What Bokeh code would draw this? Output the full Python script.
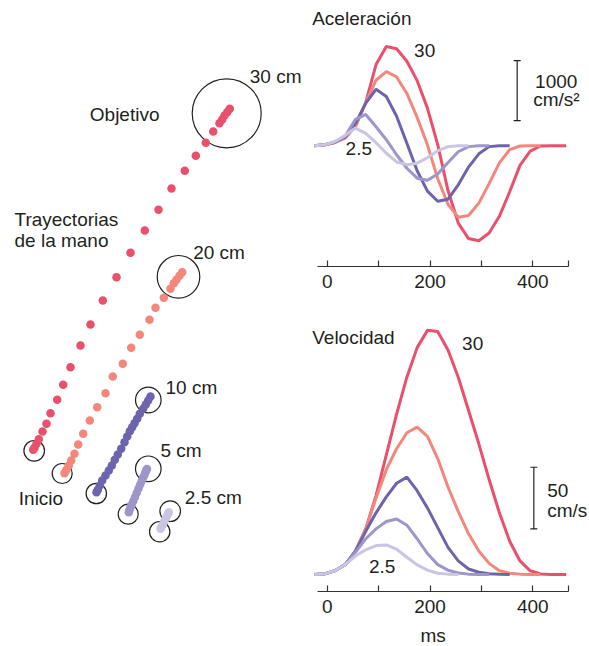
from bokeh.plotting import figure
from bokeh.layouts import row, column
from bokeh.models import Range1d, FixedTicker, Label, Whisker, ColumnDataSource, TeeHead
from bokeh.embed import file_html
from bokeh.resources import INLINE

FONT = "Liberation Sans"
INK = "#231f20"

# ---------------- data ----------------
distances = ["30", "20", "10", "5", "2.5"]
colors = ["#E9506B", "#F3877C", "#6C64AC", "#9D96CB", "#C9C5E3"]

t_ms = [-25, -5, 15, 35, 55, 75, 95, 115, 135, 155, 175, 195, 215, 235, 255,
        275, 295, 315, 335, 355, 375, 395, 415, 435, 455, 465]

# velocity, cm/s
vel_30 = [0, 0.5, 3, 8, 19, 37, 64, 97, 130, 160, 184, 198, 197, 182, 160, 133,
          106, 77, 50, 27, 11, 3, 0.5, 0, 0, 0]
vel_20 = [0, 0.5, 3, 8, 19, 37, 62, 85, 102, 115, 119.5, 112, 94, 71, 51, 33,
          19, 9, 3, 1, 0.3, 0, 0]
vel_10 = [0, 0.5, 3, 8, 19, 35, 50, 63, 74, 79, 68, 54, 38, 22, 11, 4.5, 1.8,
          0.7, 0.2, 0]
vel_5 = [0, 0.5, 3, 8, 18, 29, 37, 43, 45, 40, 29, 17, 8, 3.5, 1.2, 0.3, 0, 0]
vel_2_5 = [0, 0.5, 3, 8, 15, 20, 23.5, 24, 20.5, 14, 7.8, 3.6, 1, 0.3, 0]

# acceleration, cm/s^2
acc_30 = [0, 15, 55, 130, 320, 720, 1350, 1650, 1615, 1406, 1083, 626, 18, -746,
          -1287, -1545, -1581, -1453, -1175, -766, -327, -90, -5, 0, 0, 0]
acc_20 = [0, 15, 55, 135, 330, 715, 1090, 1235, 1145, 870, 472, 15, -550, -975,
          -1190, -1160, -955, -630, -285, -65, -5, 0, 0]
acc_10 = [0, 15, 58, 145, 370, 710, 940, 820, 490, 40, -417, -755, -925, -890,
          -650, -355, -135, -15, 0, 0]
acc_5 = [0, 15, 62, 160, 440, 520, 315, 100, -150, -375, -540, -575, -470, -280,
         -100, -15, 0, 0]
acc_2_5 = [0, 15, 70, 175, 294, 205, 50, -125, -270, -315, -290, -200, -85, -15,
           -2, 0]

vel_series = [vel_30, vel_20, vel_10, vel_5, vel_2_5]
acc_series = [acc_30, acc_20, acc_10, acc_5, acc_2_5]

# hand trajectories (panel units), sampled positions
traj_30_x = [229.3, 226.7, 224, 221.7, 219, 212.7, 205.3, 195.3, 184.3, 171, 158,
             144.3, 130, 116, 102.3, 90, 80, 70, 62.7, 56.7, 50, 46, 42, 38.3,
             36, 34, 32.7]
traj_30_y = [108.3, 111.7, 115, 119, 122.7, 131, 142.3, 155.3, 170.3, 188, 209.3,
             230, 252.3, 276.7, 300, 324, 345, 366.7, 384.3, 399.3, 412.7, 423.3,
             431, 438.7, 443.3, 447.3, 449.3]
traj_20_x = [181.7, 179, 176, 173.3, 170, 163.3, 155, 149, 139.3, 130.7, 122.3,
             112.3, 105, 96.7, 89.3, 82.7, 77.7, 74, 70.7, 68.3, 66, 64]
traj_20_y = [271.7, 275.3, 279.3, 282.7, 288.3, 297.3, 307.3, 319.3, 334.3, 347.3,
             363.3, 376, 392.7, 406.7, 420, 433.3, 444, 453.3, 460, 465, 469.3,
             472.7]
traj_10_x = [150, 147.7, 145.3, 142.7, 139.3, 136.7, 134, 131.7, 129.3, 126.7, 124,
             120.7, 117.3, 114.3, 111.3, 108.3, 105, 101.7, 99.3, 97.3, 96]
traj_10_y = [396, 400, 404, 408.3, 413.3, 418.3, 422.7, 426.7, 430.7, 436, 441.7,
             448.3, 454, 459.3, 465, 470, 475, 480, 485, 489.3, 491.7]
traj_5_x = [146.5, 145.8, 145, 144, 142.8, 141.3, 139.7, 138, 136.3, 134.5, 132.8,
            131.3, 130, 129, 128.3]
traj_5_y = [468.5, 469.8, 471.5, 474, 476.8, 480.3, 484, 488, 492.2, 496.5, 500.5,
            504, 507, 509.5, 511.7]
traj_2_5_x = [168.3, 167.6, 166.5, 165, 163.5, 162, 160.8, 160]
traj_2_5_y = [511.7, 513, 515.3, 518.3, 521.3, 524.3, 526.8, 528.3]

traj_x = [traj_30_x, traj_20_x, traj_10_x, traj_5_x, traj_2_5_x]
traj_y = [traj_30_y, traj_20_y, traj_10_y, traj_5_y, traj_2_5_y]

target_x = [226.2, 178, 147.8, 147.8, 169.7]
target_y = [112.8, 276.3, 399.5, 468.3, 510.7]
target_r = [34.5, 21.3, 12.8, 12.8, 10.3]
start_x = [33.7, 61.7, 95.8, 127.7, 159.2]
start_y = [450.3, 473, 493, 513.7, 531.2]
start_r = [10.3, 10, 10.2, 10, 10.2]

acc_scale = 1000   # cm/s^2
vel_scale = 50     # cm/s
tick_major = [0, 200, 400]
tick_minor = [100, 300, 470]

LEFT_W = 310
RIGHT_W = 589 - LEFT_W
X0, X1 = -32.49, 510.3   # ms range of the right panels


def lab(p, x, y, text, align="left"):
    p.add_layout(Label(x=x, y=y, text=text, text_font=FONT, text_font_size="19px",
                       text_color=INK, text_align=align,
                       text_baseline="middle"))


# ---------------- left panel ----------------
left = figure(width=LEFT_W, height=646, x_range=Range1d(0, LEFT_W),
              y_range=Range1d(646, 0), output_backend="svg",
              toolbar_location=None, x_axis_location=None, y_axis_location=None,
              min_border=0, outline_line_color=None)
left.grid.visible = False

left.circle(target_x, target_y, radius=target_r, fill_color=None,
            line_color=INK, line_width=1.2)
left.circle(start_x, start_y, radius=start_r, fill_color=None,
            line_color=INK, line_width=1.2)
for xs, ys, c in zip(traj_x, traj_y, colors):
    left.scatter(xs, ys, size=8.5, fill_color=c, line_color=None)

lab(left, 249.3, 75.9, "30 cm")
lab(left, 89.3, 113.5, "Objetivo")
lab(left, 14, 218.5, "Trayectorias")
lab(left, 14, 240.2, "de la mano")
lab(left, 192.7, 251.8, "20 cm")
lab(left, 165, 386.7, "10 cm")
lab(left, 160, 450, "5 cm")
lab(left, 184.3, 497.2, "2.5 cm")
lab(left, 18.3, 498.2, "Inicio")


def style_axis(p):
    ax = p.xaxis[0]
    ax.ticker = FixedTicker(ticks=tick_major, minor_ticks=tick_minor)
    ax.bounds = (-18, 470)
    ax.major_tick_in = 6
    ax.major_tick_out = 0
    ax.minor_tick_in = 6
    ax.minor_tick_out = 0
    ax.axis_line_color = "#333333"
    ax.axis_line_width = 1.2
    ax.major_tick_line_color = "#333333"
    ax.minor_tick_line_color = "#333333"
    ax.major_tick_line_width = 1.2
    ax.minor_tick_line_width = 1.2
    ax.major_label_text_font = FONT
    ax.major_label_text_font_size = "19px"
    ax.major_label_text_color = INK
    ax.major_label_standoff = 8
    p.grid.visible = False


# ---------------- acceleration ----------------
acc = figure(width=RIGHT_W, height=300, x_range=Range1d(X0, X1),
             y_range=Range1d(-2010, 2417), output_backend="svg",
             toolbar_location=None, y_axis_location=None,
             min_border_left=0, min_border_right=0, min_border_top=0,
             min_border_bottom=34, outline_line_color=None)
style_axis(acc)
for ys, c in zip(acc_series, colors):
    acc.line(t_ms[:len(ys)], ys, line_color=c, line_width=3)

asrc = ColumnDataSource(dict(base=[369.6], lower=[417], upper=[417 + acc_scale]))
acc.add_layout(Whisker(base="base", lower="lower", upper="upper", source=asrc,
                       dimension="height", line_color=INK, line_width=1.2,
                       upper_head=TeeHead(size=7, line_color=INK, line_width=1.2),
                       lower_head=TeeHead(size=7, line_color=INK, line_width=1.2)))
lab(acc, -29.2, 2113, "Aceleración")
lab(acc, 189.6, 1585, "30", "center")
lab(acc, 61.5, -54, "2.5", "center")
lab(acc, 445.5, 1075, "1000", "center")
lab(acc, 446, 763, "cm/s²", "center")

# ---------------- velocity ----------------
vel = figure(width=RIGHT_W, height=326, x_range=Range1d(X0, X1),
             y_range=Range1d(-13.79, 222.22), output_backend="svg",
             toolbar_location=None, y_axis_location=None,
             min_border_left=0, min_border_right=0, min_border_top=0,
             min_border_bottom=35, outline_line_color=None)
style_axis(vel)
for ys, c in zip(vel_series, colors):
    vel.line(t_ms[:len(ys)], ys, line_color=c, line_width=3)

vsrc = ColumnDataSource(dict(base=[402], lower=[37], upper=[37 + vel_scale]))
vel.add_layout(Whisker(base="base", lower="lower", upper="upper", source=vsrc,
                       dimension="height", line_color=INK, line_width=1.2,
                       upper_head=TeeHead(size=7, line_color=INK, line_width=1.2),
                       lower_head=TeeHead(size=7, line_color=INK, line_width=1.2)))
lab(vel, -29.2, 192.6, "Velocidad")
lab(vel, 283, 187.2, "30", "center")
lab(vel, 107, 6.1, "2.5", "center")
lab(vel, 428, 68.2, "50")
lab(vel, 428, 52, "cm/s")

# axis title strip below the velocity panel
ms_fig = figure(width=RIGHT_W, height=20, x_range=Range1d(X0, X1),
                y_range=Range1d(0, 20), output_backend="svg",
                toolbar_location=None, x_axis_location=None, y_axis_location=None,
                min_border=0, outline_line_color=None)
ms_fig.grid.visible = False
lab(ms_fig, 206, 11.1, "ms", "center")

layout = row(left, column(acc, vel, ms_fig, spacing=0), spacing=0)
open("out.html", "w").write(file_html(layout, INLINE))
